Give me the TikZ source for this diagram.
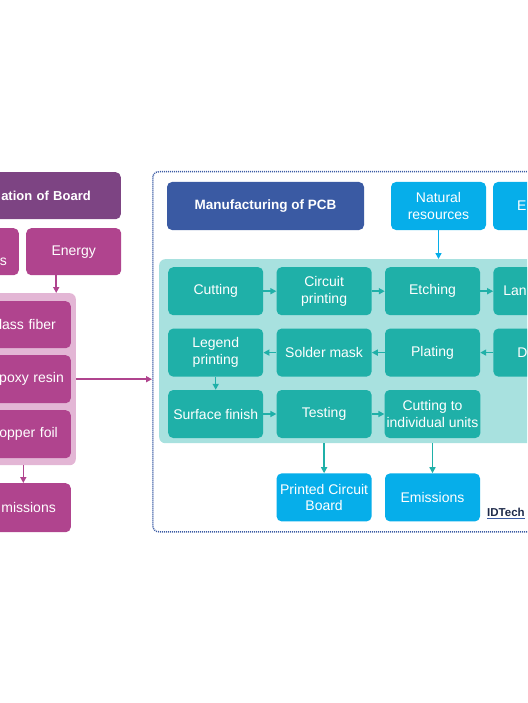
\documentclass[tikz,border=0pt]{standalone}
\usepackage{fontspec}
\setmainfont{Liberation Sans}
\usetikzlibrary{positioning, arrows.meta}
\definecolor{plum}{HTML}{7D4483}
\definecolor{mag}{HTML}{B0448E}
\definecolor{pinkbg}{HTML}{E3B6D5}
\definecolor{navy}{HTML}{3A5AA3}
\definecolor{sky}{HTML}{06AEEA}
\definecolor{teal1}{HTML}{1FB0A8}
\definecolor{tealbg}{HTML}{A8E1DF}
\definecolor{ink}{HTML}{1E2A4A}

\begin{document}
\begin{tikzpicture}[x=1pt,y=-1pt,font=\fontsize{14}{16.5}\selectfont,>={Triangle[length=6pt,width=6pt]},node distance=13pt,
  b/.style={rounded corners=5pt,fill=teal1,text=white,align=center,minimum width=95pt,minimum height=48pt,inner sep=2pt},
  pb/.style={b,fill=mag},
  sb/.style={b,fill=sky},
  lb/.style={pb,align=right,text width={95pt-2*#1},inner xsep=#1},
  rb/.style={b,align=left,text width={95pt-2*#1},inner xsep=#1},
  bg/.style={rounded corners=6pt,anchor=north west,inner sep=0pt},
  tl/.style={teal1,line width=1.5pt},
  pl/.style={mag,line width=1.5pt}]
  \useasboundingbox (0,0) rectangle (527,703);
  \clip (0,0) rectangle (527,703);
  % left part: board
  \node[pb,fill=plum,anchor=north east,minimum height=47pt,font=\bfseries\fontsize{13}{16}\selectfont,align=right,text width=190pt,inner xsep=30pt](brd) at (121,172){ation of Board};
  \node[lb=12pt,anchor=north east,minimum height=47pt](nrl) at (19,228){\strut\\s};
  \node[pb,anchor=north west,minimum height=47pt](enl) at (26,228){Energy};
  \node[bg,fill=pinkbg,minimum width=110pt,minimum height=172pt,anchor=north east](mat) at (76,293){};
  \node[lb=15pt,anchor=north east,minimum height=47pt](gls) at (71,301){lass fiber};
  \node[lb=7pt,anchor=north east](epx) at (71,355){poxy resin};
  \node[lb=13pt,anchor=north east](cop) at (71,410){opper foil};
  \node[lb=15pt,anchor=north east,minimum height=49pt](eml) at (71,483){missions};
  \draw[pl,->]([xshift=-17.5pt]enl.south)--([xshift=-17.5pt]enl.south |- mat.north);
  \draw[pl,->](mat.south -| eml.north)--(eml.north);
  % right part: manufacturing
  \node[bg,draw=navy,line width=1.5pt,dash pattern=on 1pt off 1pt,minimum width=500pt,minimum height=360pt](frame) at (152,171){};
  \draw[pl,->](mat.east |- epx)--(frame.west |- epx);
  \node[b,fill=navy,minimum width=197pt,font=\bfseries\fontsize{13.5}{16}\selectfont](mpcb) at (265.5,206){Manufacturing of PCB};
  \node[sb](nat) at (438.5,206){Natural\\resources};
  \node[rb=24pt,fill=sky](enr) at (540.5,206){E};
  \node[bg,fill=tealbg,minimum width=470pt,minimum height=184pt](proc) at (159,259){};
  \draw[sky,line width=1.5pt,->](nat)--(nat.south |- proc.north);
  \node[b,anchor=north west](cut) at (168,267){Cutting};
  \node[b,right=of cut](circ){Circuit\\printing};
  \node[b,right=of circ](etch){Etching};
  \node[rb=10pt,right=of etch](lam){Lan};
  \node[b,below=of cut](leg){Legend\\printing};
  \node[b,below=of circ](sold){Solder mask};
  \node[b,below=of etch](plat){Plating};
  \node[rb=24pt,below=of lam](dri){D};
  \node[b,below=of leg](surf){Surface finish};
  \node[b,below=of sold](test){Testing};
  \node[b,below=of plat](cutu){Cutting to\\individual units};
  \draw[tl,->](cut)--(circ);\draw[tl,->](circ)--(etch);\draw[tl,->](etch)--(lam);
  \draw[tl,->](dri)--(plat);\draw[tl,->](plat)--(sold);\draw[tl,->](sold)--(leg);
  \draw[tl,->](leg)--(surf);
  \draw[tl,->](surf)--(test);\draw[tl,->](test)--(cutu);
  \node[sb,below=35pt of test](pcb){Printed Circuit\\Board};
  \node[sb,below=35pt of cutu](emr){Emissions};
  \draw[tl,->](test.south |- proc.south)--(pcb);
  \draw[tl,->](cutu.south |- proc.south)--(emr);
  \node[anchor=west,inner sep=0pt,text=ink,font=\bfseries\fontsize{11.5}{14}\selectfont](idt) at (487,512){IDTech};
  \draw[navy,line width=1.2pt]([yshift=-2.5pt]idt.base west)--([yshift=-2.5pt]idt.base east);
\end{tikzpicture}
\end{document}
